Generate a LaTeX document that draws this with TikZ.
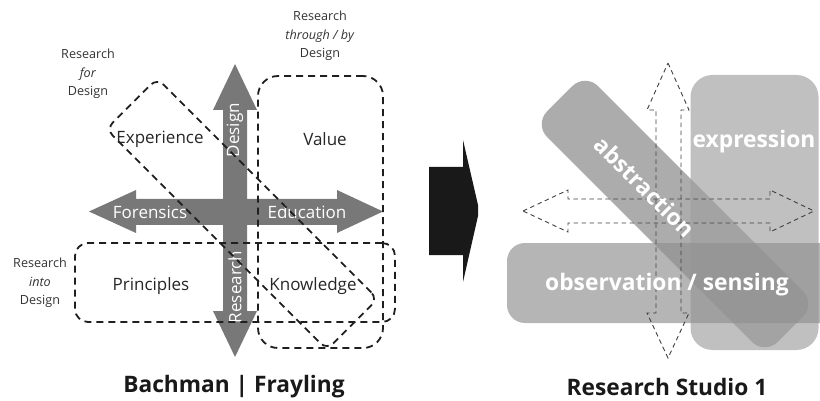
\documentclass[tikz,border=0pt]{standalone}
\usepackage{fontspec}
\setmainfont{Open Sans}
\usepackage{xcolor}
\usetikzlibrary{positioning}
\definecolor{arrowgrey}{HTML}{787878}
\definecolor{exprgrey}{HTML}{C0C0C0}
\definecolor{abstrgrey}{HTML}{9E9E9E}
\definecolor{obsgrey}{HTML}{909090}

\begin{document}
\begin{tikzpicture}[
    x=1pt, y=-1pt,
    quadrant/.style={font=\fontsize{17}{20}\selectfont, text=black!85},
    axislabel/.style={font=\fontsize{17}{20}\selectfont, text=white},
    tag/.style={font=\fontsize{12.6}{18.5}\selectfont, align=center, text=black!80},
    title/.style={font=\fontsize{22.7}{26}\selectfont\bfseries, text=black!90, inner sep=1pt},
    zone/.style={draw=black!88, line width=1.8pt, dash pattern=on 7pt off 5pt, inner sep=0pt},
    ghost/.style={draw=black!75, line width=0.9pt, dash pattern=on 4.5pt off 3.5pt},
    patch/.style={inner sep=0pt, draw=none},
    studio/.style={font=\fontsize{22.8}{26}\selectfont\bfseries, text=white}
]
    \clip (0,0) rectangle (820,401);

    % Bachman | Frayling cross
    \fill[arrowgrey] (89,211.5) -- (136,190) -- (136,199) -- (337,199) -- (337,190) -- (383,211.5)
        -- (337,233) -- (337,225) -- (136,225) -- (136,233) -- cycle;
    \fill[arrowgrey] (235,64) -- (257,110) -- (247,110) -- (247,311) -- (257,311) -- (235,357)
        -- (213,311) -- (223,311) -- (223,110) -- (213,110) -- cycle;
    \node[axislabel, rotate=90] (design) at (235,130) {Design};
    \node[axislabel, rotate=90] (research) at (235,287) {Research};
    \node[axislabel] (forensics) at (150,212) {Forensics};
    \node[axislabel] (education) at (307,212) {Education};

    \node[zone, rounded corners=20pt, minimum width=125pt, minimum height=272pt] (through) at (320.5,212) {};
    \node[zone, rounded corners=13pt, minimum width=320pt, minimum height=79pt] (into) at (235,282.5) {};
    \node[zone, rounded corners=9pt, minimum width=312pt, minimum height=72pt, rotate=-45] (for) at (242,214) {};

    \node[quadrant] (experience) at (160,139) {Experience};
    \node[quadrant] (value) at (325,139) {Value};
    \node[quadrant] (principles) at (151,286) {Principles};
    \node[quadrant] (knowledge) at (313,286) {Knowledge};

    \node[tag] (rfor) at (88,74) {Research\\\textit{for}\\Design};
    \node[tag] (rthrough) at (320,36) {Research\\\textit{through / by}\\Design};
    \node[tag] (rinto) at (40,283) {Research\\\textit{into}\\Design};
    \node[title] (bachman) at (234,387) {Bachman | Frayling};

    % big arrow
    \fill[black!90] (429,167) -- (463,167) -- (463,140) -- (478,205) -- (478,216) -- (463,282)
        -- (463,255) -- (429,255) -- cycle;

    % Research Studio 1
    \node[patch, fill=exprgrey, rounded corners=22pt, minimum width=128pt, minimum height=275pt] (exprbox) at (754.5,212.5) {};
    \node[patch, fill=abstrgrey, fill opacity=0.85, rounded corners=18pt, minimum width=326pt, minimum height=72pt, rotate=-45] (abstrband) at (675,214) {};
    \node[patch, fill=obsgrey, fill opacity=0.667, rounded corners=18pt, minimum width=333pt, minimum height=80pt] (obsbox) at (673.5,283) {};

    \draw[ghost] (523,211) -- (568,190) -- (568,199) -- (770,199) -- (770,190) -- (814,211)
        -- (770,232) -- (770,223) -- (568,223) -- (568,232) -- cycle;
    \draw[ghost] (668,63) -- (689,110) -- (681,110) -- (681,313) -- (689,313) -- (668,358)
        -- (647,313) -- (656,313) -- (656,110) -- (647,110) -- cycle;

    \node[studio] (expression) at (754,142) {expression};
    \node[studio, rotate=-45] (abstraction) at (645,187) {abstraction};
    \node[studio] (observation) at (667,285) {observation / sensing};
    \node[title] (studio1) at (667,387) {Research Studio 1};
\end{tikzpicture}
\end{document}
